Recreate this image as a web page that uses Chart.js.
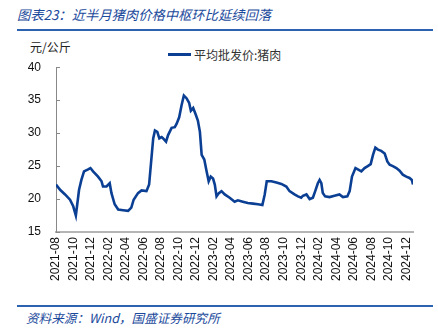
<!DOCTYPE html>
<html>
<head>
<meta charset="utf-8">
<script src="https://cdn.jsdelivr.net/npm/chart.js@4"></script>
<style>
  body { margin: 0; background: #fff; width: 438px; height: 336px; overflow: hidden; position: relative; font-family: "Noto Sans CJK SC", sans-serif; }
  #title { position: absolute; left: 17px; top: 5px; font-size: 13.3px; font-style: italic; color: #1b4a9c; white-space: nowrap; }
  .rule { position: absolute; left: 17px; width: 416px; height: 2px; background: #2c62b0; }
  #unit { position: absolute; left: 30px; top: 38px; font-size: 12px; color: #222; }
  #legend { position: absolute; left: 168px; top: 46px; font-size: 12px; color: #333; display: flex; align-items: center; }
  #legend span.swatch { display: inline-block; width: 23px; height: 3px; background: #0b3f94; margin-right: 3px; }
  #source { position: absolute; left: 26px; top: 308px; font-size: 12.6px; font-style: italic; color: #1b4a9c; white-space: nowrap; }
  #wrap { position: absolute; left: 0; top: 45px; width: 438px; height: 251px; }
</style>
</head>
<body>
<div id="title">图表23：近半月猪肉价格中枢环比延续回落</div>
<div class="rule" style="top:29px"></div>
<div id="unit">元/公斤</div>
<div id="legend"><span class="swatch"></span><span id="legendText"></span></div>
<div id="wrap"><canvas id="c1"></canvas></div>
<div class="rule" style="top:305px"></div>
<div id="source">资料来源：Wind，国盛证券研究所</div>

<script>
// 平均批发价:猪肉 (元/公斤)
var seriesName = "平均批发价:猪肉";
var dates = [
  "2021-08-01","2021-08-15","2021-09-02","2021-09-19","2021-09-30","2021-10-09","2021-10-20","2021-10-28",
  "2021-11-07","2021-11-21","2021-11-29","2021-12-08","2021-12-25","2022-01-07","2022-01-12","2022-01-24",
  "2022-02-05","2022-02-11","2022-02-22","2022-03-04","2022-03-21","2022-04-08","2022-04-19","2022-04-27",
  "2022-05-12","2022-05-24","2022-06-11","2022-06-20","2022-06-28","2022-07-04","2022-07-10","2022-07-18",
  "2022-07-25","2022-08-03","2022-08-08","2022-08-18","2022-08-25","2022-09-07","2022-09-18","2022-09-24",
  "2022-10-03","2022-10-11","2022-10-19","2022-10-28","2022-11-07","2022-11-13","2022-11-21","2022-11-29",
  "2022-12-07","2022-12-14","2022-12-20","2022-12-29","2023-01-06","2023-01-14","2023-01-21","2023-01-29",
  "2023-02-05","2023-02-11","2023-02-19","2023-02-28","2023-03-09","2023-03-26","2023-04-13","2023-04-24",
  "2023-05-11","2023-05-28","2023-06-16","2023-07-03","2023-07-18","2023-07-26","2023-08-03","2023-08-19",
  "2023-09-06","2023-09-23","2023-10-10","2023-10-21","2023-11-08","2023-11-20","2023-12-01","2023-12-07",
  "2023-12-19","2023-12-30","2024-01-11","2024-01-19","2024-01-28","2024-02-04","2024-02-10","2024-02-15",
  "2024-02-23","2024-03-08","2024-03-25","2024-04-12","2024-04-24","2024-05-09","2024-05-17","2024-05-25",
  "2024-06-07","2024-06-15","2024-06-27","2024-07-08","2024-07-19","2024-07-29","2024-08-07","2024-08-15",
  "2024-08-24","2024-09-05","2024-09-17","2024-09-26","2024-10-04","2024-10-15","2024-10-27","2024-11-08",
  "2024-11-19","2024-12-01","2024-12-12","2024-12-20","2024-12-24"
];
var prices = [
  22.2, 21.4, 20.7, 19.9, 18.9, 17.5, 21.4, 22.9,
  24.2, 24.5, 24.7, 24.2, 23.4, 22.7, 21.9, 21.9,
  22.4, 20.9, 19.2, 18.4, 18.3, 18.2, 18.7, 19.9,
  20.9, 21.3, 21.2, 22.2, 26.2, 29.2, 30.4, 30.2,
  29.2, 29.4, 29.2, 28.7, 29.7, 30.8, 30.9, 31.4,
  32.4, 34.2, 35.7, 35.3, 34.6, 33.4, 33.8, 32.9,
  31.9, 30.2, 26.7, 26.0, 24.4, 22.7, 23.4, 23.1,
  22.2, 20.4, 20.9, 21.2, 20.7, 20.2, 19.6, 19.8,
  19.6, 19.4, 19.3, 19.2, 19.1, 20.7, 22.7, 22.7,
  22.5, 22.3, 21.9, 21.2, 20.7, 20.4, 20.2, 20.5,
  20.7, 20.0, 20.2, 21.2, 22.4, 22.9, 22.4, 20.9,
  20.4, 20.3, 20.5, 20.7, 20.3, 20.4, 21.2, 23.4,
  24.7, 24.5, 24.2, 24.7, 25.0, 25.3, 26.7, 27.8,
  27.5, 27.3, 26.9, 25.7, 25.2, 25.0, 24.7, 24.3,
  23.7, 23.4, 23.2, 22.9, 22.2
];
var firstMonth = "2021-08";
var yMin = 15, yMax = 40, yStep = 5;

// months elapsed since firstMonth, used as x value
function monthIndex(s) {
    let p = s.split("-").map(Number);
    let f = firstMonth.split("-").map(Number);
    let d = p.length > 2 ? p[2] : 1;
    return (p[0] - f[0]) * 12 + (p[1] - f[1]) + (d - 1) / 30;
}

function monthLabel(i) {
    let f = firstMonth.split("-").map(Number);
    let t = f[0] * 12 + (f[1] - 1) + Math.round(i);
    let y = Math.floor(t / 12), m = t % 12 + 1;
    return y + "-" + (m < 10 ? "0" + m : m);
}

var points = [];
for (let i = 0; i < dates.length; i++)
    points.push({x: monthIndex(dates[i]), y: prices[i]});

document.getElementById("legendText").innerText = seriesName;

// small inward tick marks on the y axis, like the original
var innerTicks = {
    id: "innerTicks",
    afterDraw(chart) {
        let ctx = chart.ctx;
        let ys = chart.scales.y;
        let left = chart.chartArea.left;
        ctx.save();
        ctx.strokeStyle = "#888";
        ctx.lineWidth = 1;
        for (let v = yMin; v <= yMax; v += yStep) {
            let py = Math.round(ys.getPixelForValue(v)) + 0.5;
            ctx.beginPath();
            ctx.moveTo(left, py);
            ctx.lineTo(left + 4, py);
            ctx.stroke();
        }
        ctx.restore();
    }
};

var chart1 = new Chart(document.getElementById("c1"), {
    type: "line",
    data: {
        datasets: [{
            label: seriesName,
            data: points,
            borderColor: "#0b3f94",
            borderWidth: 2.6,
            pointRadius: 0,
            tension: 0,
            fill: false
        }]
    },
    options: {
        responsive: true,
        maintainAspectRatio: false,
        animation: false,
        layout: {padding: {top: 10, right: 25, left: 0, bottom: 0}},
        plugins: {legend: {display: false}, tooltip: {enabled: false}},
        scales: {
            x: {
                type: "linear",
                min: 0,
                max: monthIndex(dates[dates.length - 1]),
                grid: {display: false, drawTicks: false},
                border: {display: true, color: "#b5b5b5", width: 2},
                afterFit: (scale) => { scale.height = 64; },
                ticks: {
                    stepSize: 2,
                    includeBounds: false,
                    autoSkip: false,
                    minRotation: 90,
                    maxRotation: 90,
                    padding: 5,
                    color: "#111",
                    font: {family: "Liberation Sans, Arial, sans-serif", size: 12},
                    callback: (v) => monthLabel(v)
                }
            },
            y: {
                min: yMin,
                max: yMax,
                grid: {display: false, drawTicks: false},
                border: {display: true, color: "#888", width: 1},
                afterFit: (scale) => { scale.width = 56; },
                ticks: {
                    stepSize: yStep,
                    padding: 15,
                    color: "#111",
                    font: {family: "Liberation Sans, Arial, sans-serif", size: 12}
                }
            }
        }
    },
    plugins: [innerTicks]
});
</script>
</body>
</html>
